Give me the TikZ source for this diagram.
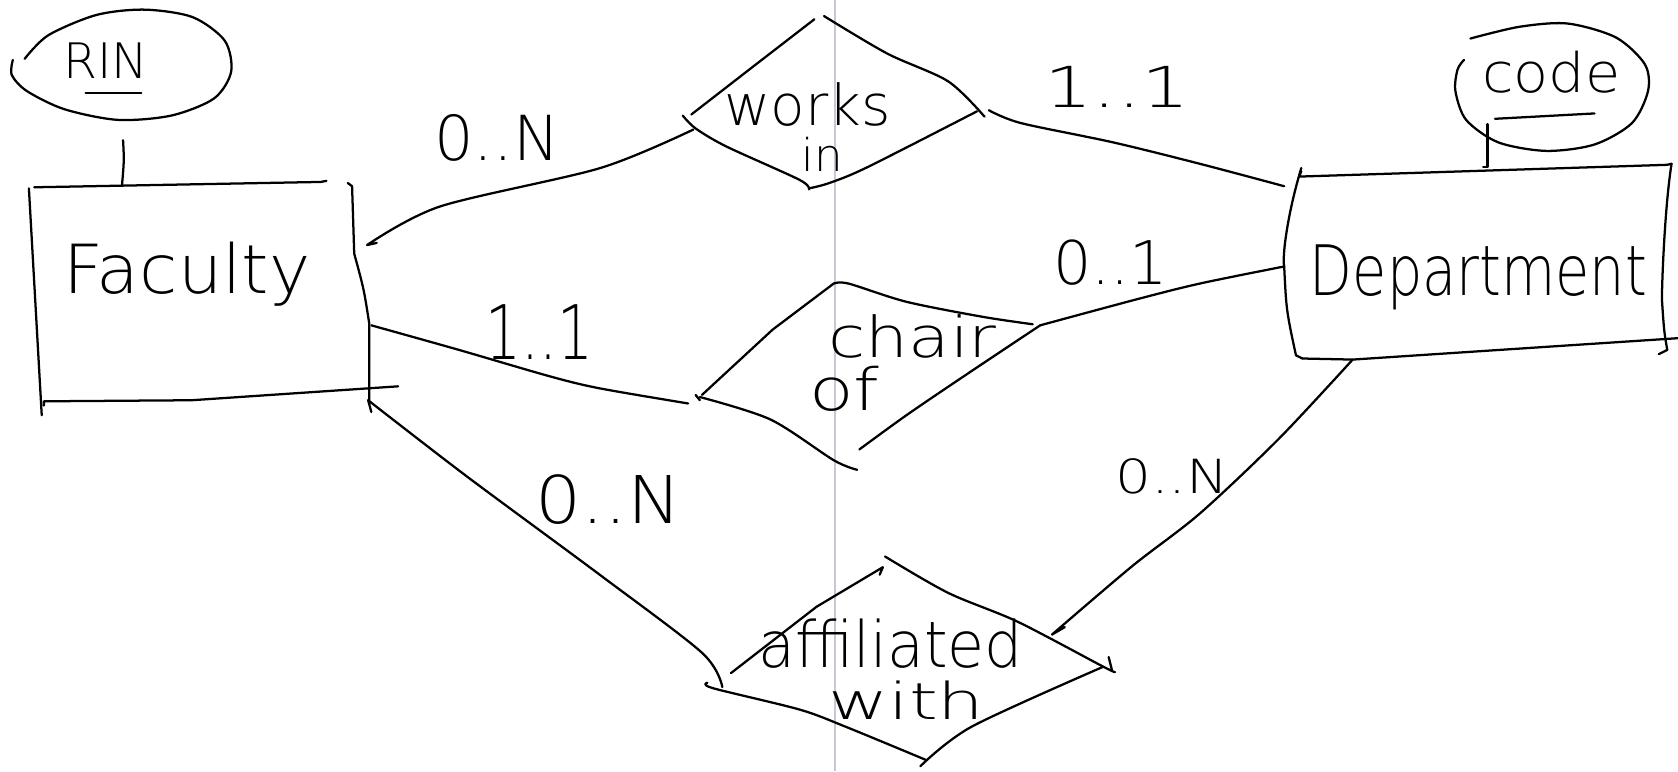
\documentclass[tikz,border=0pt]{standalone}
\usepackage{fontspec}
\setmainfont{DejaVu Sans ExtraLight}
\usepackage{graphicx}
\newcommand{\fsz}[1]{\fontsize{#1}{#1}\selectfont}
\begin{document}
\begin{tikzpicture}[x=0.01cm,y=-0.01cm,
  ink/.style={line width=0.6pt,line cap=round,line join=round,black},
  guide/.style={line width=0.45pt,draw={rgb,255:red,200;green,200;blue,210}},
  lbl/.style={anchor=base west,inner sep=0pt,outer sep=0pt}]
\useasboundingbox (0,0) rectangle (1568,720.5);
\fill[white] (0,0) rectangle (1568,720.5);
\draw[guide] (780,0) -- (780,720.5);

% ---------- RIN attribute ----------
\draw[ink] plot[smooth] coordinates {(23,55) (45,33) (90,14) (135,9) (180,16) (210,38) (216,67) (200,92) (160,108) (110,112) (60,102) (25,85) (11,70) (12,56)};
\node[lbl,font=\fsz{13}] (rin) at (59,73) {RIN};
\draw[ink] (80,87) -- (132,87);
\coordinate (rinB) at (115,131);
\coordinate (facT) at (114,173);
\draw[ink] (rinB) .. controls (116,150) .. (facT);

% ---------- Faculty entity ----------
\draw[ink] (32,175) -- (300,170) -- (305,169);
\draw[ink] (27,176) -- (39,388);
\draw[ink] (325,171) -- (329,174) .. controls (330,205) .. (331,237) .. controls (340,270) .. (345,302) -- (345,378);
\draw[ink] (41,379) -- (41,375) -- (179,374) -- (372,361);
\node[lbl,font=\fsz{18}] (faculty) at (59,274) {\scalebox{1.03}[1]{Faculty}};

% ---------- Department entity ----------
\draw[ink] (1216,160) -- (1214,165) -- (1558,154) -- (1562,153);
\draw[ink] (1216,157) .. controls (1203,200) and (1198,240) .. (1200,249) .. controls (1202,290) .. (1211,332) -- (1217,335);
\draw[ink] (1562,153) .. controls (1556,190) and (1553,260) .. (1553,280) .. controls (1555,310) .. (1558,327) -- (1550,331);
\draw[ink] (1217,335) -- (1264,336) -- (1568,316);
\node[lbl,font=\fsz{18.5}] (department) at (1224,276) {\scalebox{0.8}[1]{Department}};

% ---------- code attribute ----------
\draw[ink] plot[smooth] coordinates {(1374,36) (1420,25) (1465,22) (1510,35) (1537,60) (1540,85) (1525,115) (1490,135) (1445,141) (1400,133) (1370,112) (1360,85) (1362,65) (1368,56)};
\node[lbl,font=\fsz{14.5}] (code) at (1385,86) {\scalebox{1.05}[1]{code}};
\draw[ink] (1397,111) -- (1490,106);
\coordinate (codeB) at (1390,116);
\coordinate (depT) at (1390,156);
\draw[ink] (codeB) -- (depT) -- (1386,156);

% ---------- works in ----------
\draw[ink] (646,107) -- (704,62) -- (761,18);
\draw[ink] plot[smooth] coordinates {(770,15) (829,50) (886,76) (920,109)};
\draw[ink] plot[smooth] coordinates {(638,108) (650,120) (679,137) (747,168) (756,177)};
\draw[ink] plot[smooth] coordinates {(756,176) (775,171) (811,156) (913,104)};
\node[lbl,font=\fsz{15}] (works) at (677,117) {works};
\node[lbl,font=\fsz{12}] (in) at (749,160) {in};

% ---------- chair of ----------
\draw[ink] (779,265) -- (722,308) -- (656,369);
\draw[ink] (650,369) -- (654,374);
\draw[ink] plot[smooth] coordinates {(779,265) (793,265) (847,282) (918,296) (965,303)};
\draw[ink] plot[smooth] coordinates {(654,371) (720,392) (779,430) (801,439)};
\draw[ink] plot[smooth] coordinates {(803,420) (847,388) (900,352) (972,304)};
\node[lbl,font=\fsz{15}] (chair) at (774,334) {\scalebox{1.2}[1]{chair}};
\node[lbl,font=\fsz{15.5}] (of) at (756,384) {\scalebox{1.25}[1]{of}};

% ---------- affiliated with ----------
\draw[ink] (822,537) -- (825,530) -- (763,567) -- (683,629);
\draw[ink] plot[smooth] coordinates {(827,520) (886,554) (951,581) (1031,623) (1042,628)};
\draw[ink] (1036,614) -- (1039,626);
\draw[ink] plot[smooth] coordinates {(661,638) (666,643) (747,663) (790,679) (865,710)};
\draw[ink] plot[smooth] coordinates {(860,716) (908,679) (1031,623)};
\node[lbl,font=\fsz{17}] (affiliated) at (709,624) {\scalebox{0.94}[1]{affiliated}};
\node[lbl,font=\fsz{13.5}] (with) at (774,672) {\scalebox{1.45}[1]{with}};

% ---------- connectors ----------
\coordinate (wiL) at (648,121);
\coordinate (facA) at (343,229);
\draw[ink] plot[smooth] coordinates {(wiL) (561,157) (411,193) (facA)} -- (352,227);

\coordinate (wiR) at (924,103);
\coordinate (depA) at (1200,174);
\draw[ink] plot[smooth] coordinates {(wiR) (954,115) (1040,133) (1121,153) (depA)};

\coordinate (facB) at (347,304);
\coordinate (coL) at (643,377);
\draw[ink] plot[smooth] coordinates {(facB) (429,327) (515,352) (561,363) (coL)};

\coordinate (coR) at (972,304);
\coordinate (depB) at (1200,249);
\draw[ink] plot[smooth] coordinates {(coR) (1061,280) (1121,265) (depB)};

\coordinate (facC) at (344,374);
\coordinate (afL) at (675,642);
\draw[ink] (347,385) -- (facC);
\draw[ink] plot[smooth] coordinates {(facC) (436,445) (559,536) (656,610) (afL)};

\coordinate (depC) at (1264,336);
\coordinate (afR) at (983,593);
\draw[ink] plot[smooth] coordinates {(depC) (1195,410) (1121,480) (1058,529) (afR)} -- (995,586);

% ---------- cardinalities ----------
\node[lbl,font=\fsz{16.5}] (cWF) at (406,150) {0..N};
\node[lbl,font=\fsz{15}] (cWD) at (976,100) {\scalebox{1.35}[1]{1..1}};
\node[lbl,font=\fsz{20}] (cCF) at (454,336) {\scalebox{0.75}[1]{1..1}};
\node[lbl,font=\fsz{16}] (cCD) at (984,266) {0..1};
\node[lbl,font=\fsz{17.5}] (cAF) at (500,489) {\scalebox{1.1}[1]{0..N}};
\node[lbl,font=\fsz{12.5}] (cAD) at (1042,461) {\scalebox{1.2}[1]{0..N}};
\end{tikzpicture}
\end{document}
